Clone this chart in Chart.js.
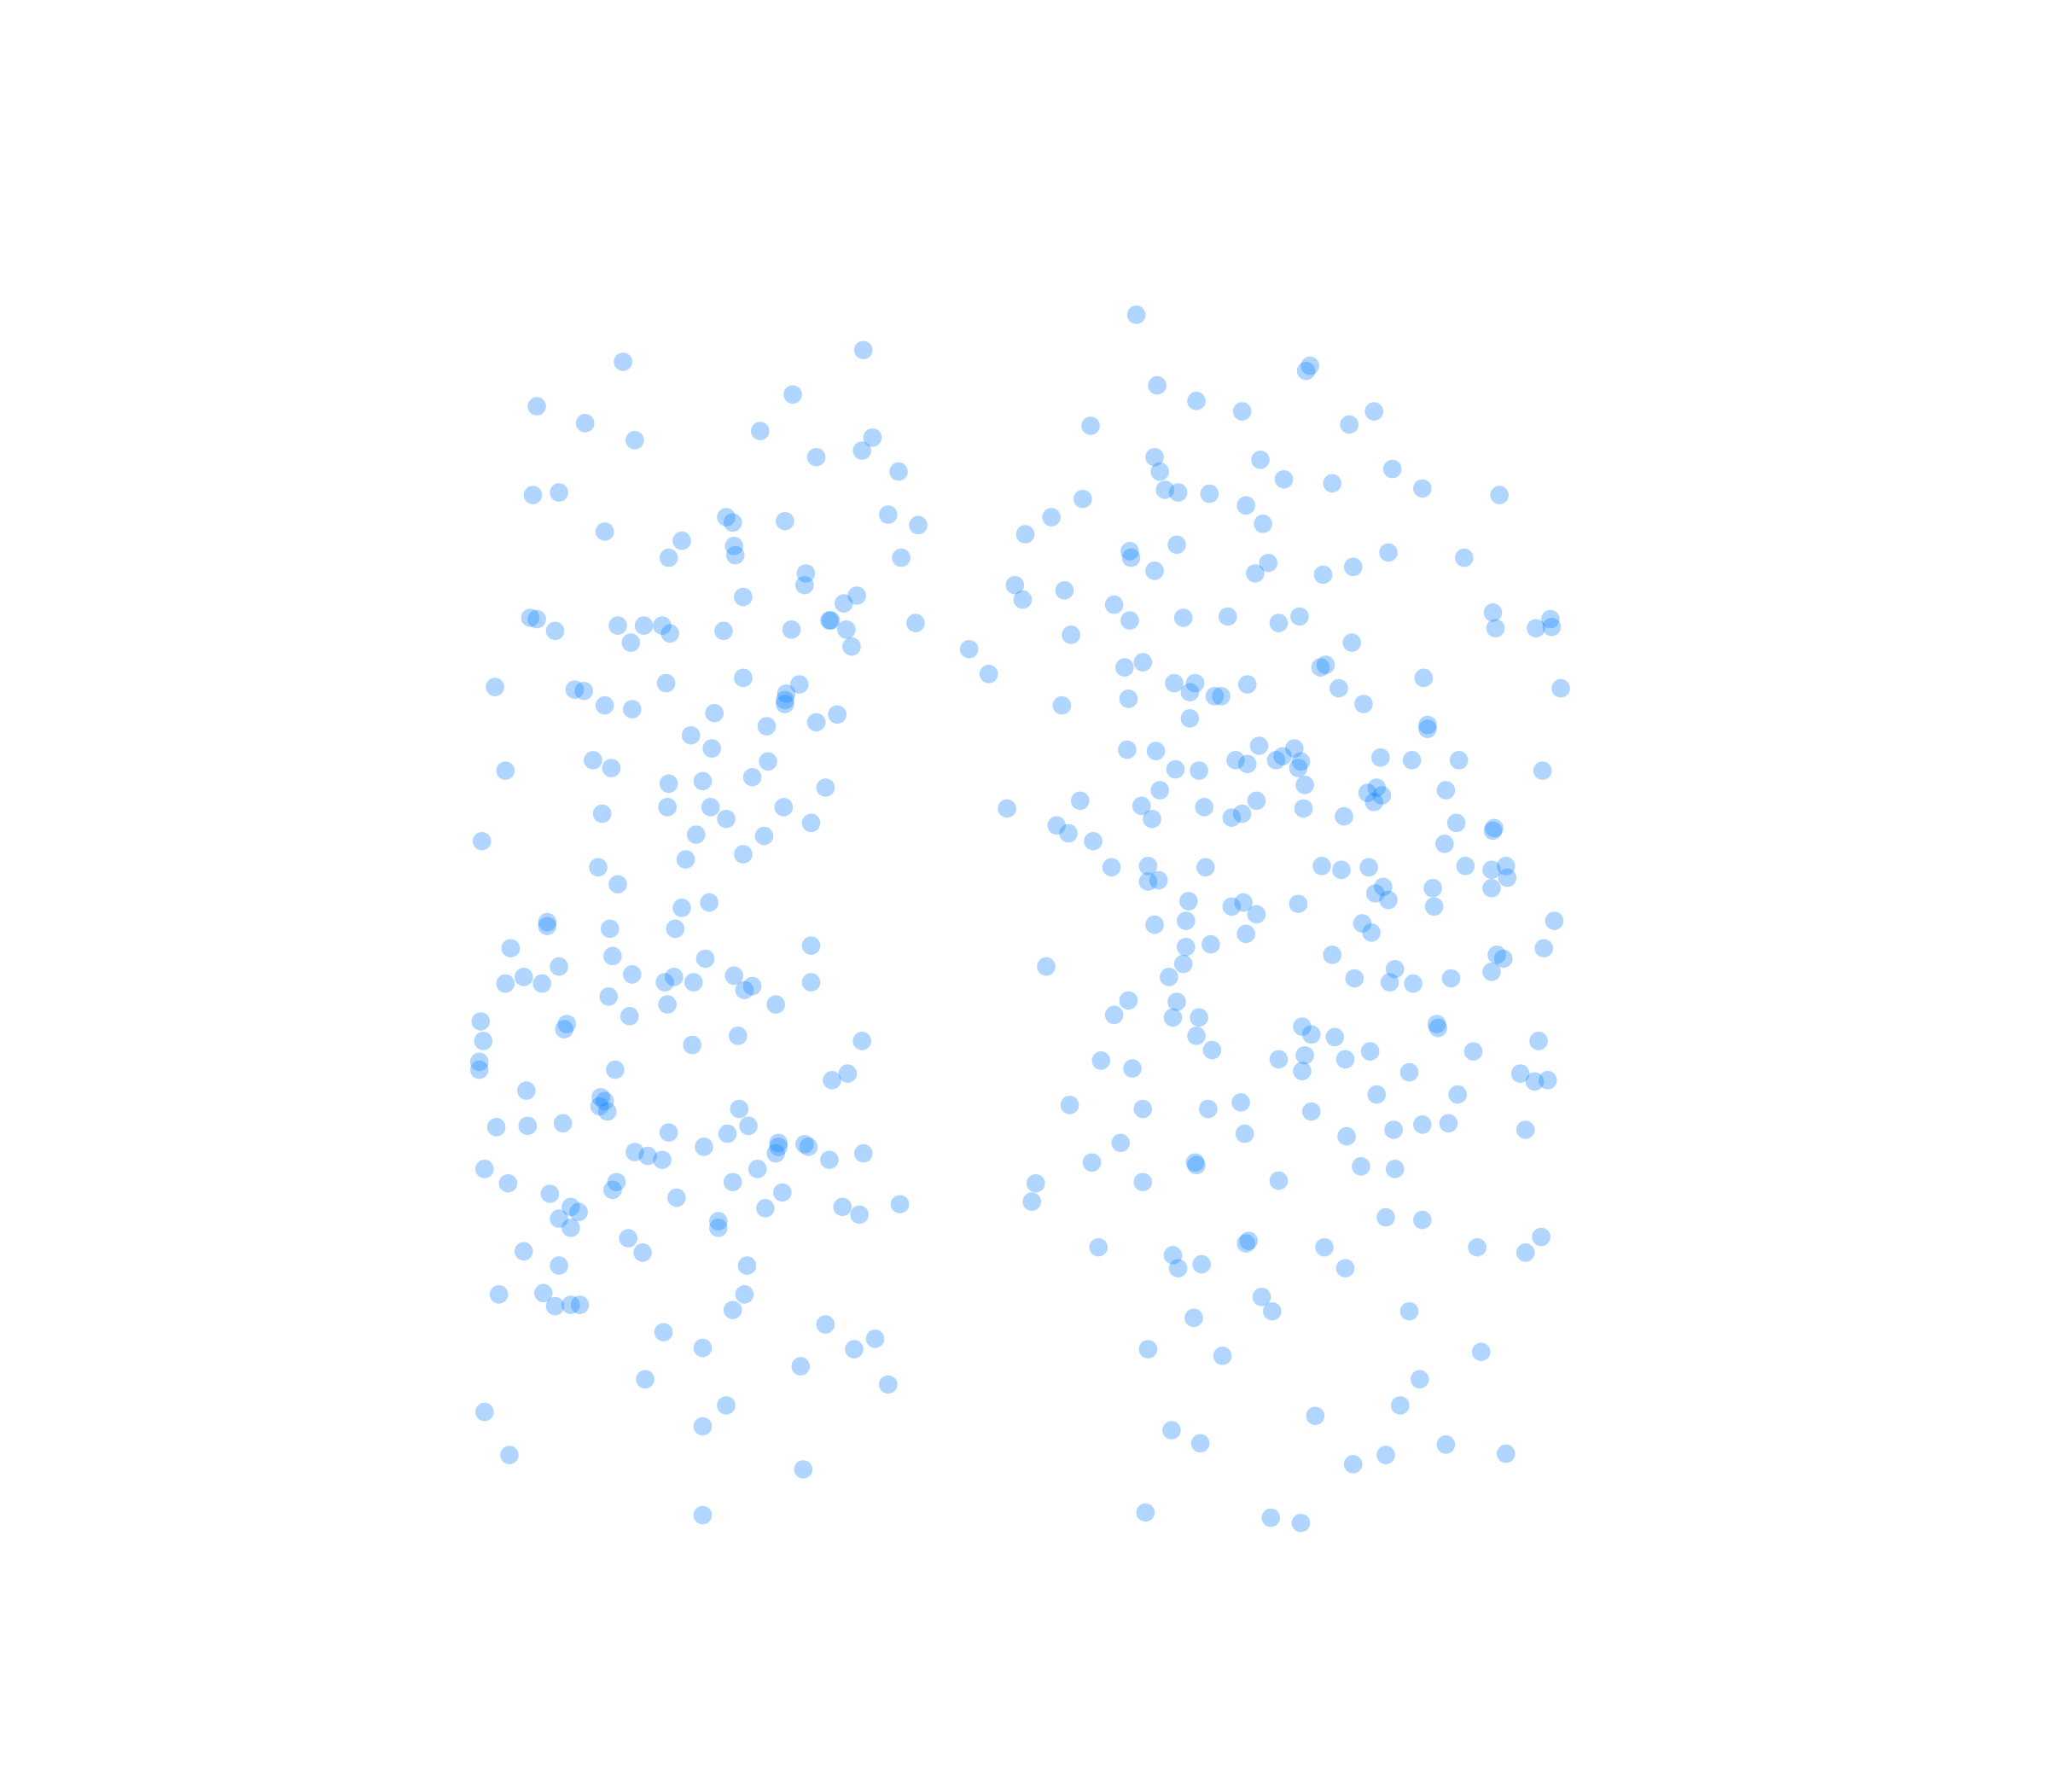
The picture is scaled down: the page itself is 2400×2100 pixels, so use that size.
<!DOCTYPE html>
<html>
<head>
    <meta charset="UTF-8">
    <title>Scatter</title>
    <style>
        body { margin: 0; background: #ffffff; }
        canvas { display: block; }
    </style>
</head>
<body>
    <canvas id="chart" width="2400" height="2100"></canvas>
    <script src="https://cdn.jsdelivr.net/npm/chart.js"></script>
    <script>
        // left group
        const leftX = [477,661,411,448,486,607,582,625,660,668,688,408,428,556,561,601,680,703,463,522,512,562,563,690,617,616,569,656,646,406,411,425,473,493,507,513,483,554,606,635,636,648,652,701,379,440,447,463,484,510,569,612,602,601,601,547,641,625,587,529,545,454,468,387,588,576,512,538,632,511,544,600,556,621,461,533,585,369,569,525,458,473,543,522,419,419,467,517,391,621,469,540,428,401,387,415,484,516,509,531,562,570,576,621,466,511,594,482,368,434,432,370,530,565,660,367,367,471,649,637,403,460,463,459,465,566,380,404,431,573,512,557,596,596,594,616,619,539,486,496,507,635,661,371,580,389,472,469,561,599,421,518,437,443,428,437,586,645,658,689,550,550,481,492,401,428,572,382,416,425,437,444,570,561,508,632,670,538,654,613,494,680,556,371,538,390,615,538];
        const leftY = [277,268,311,324,337,302,330,350,345,335,361,379,377,396,400,399,394,402,407,414,427,418,425,427,439,448,457,456,462,473,474,483,479,479,479,485,492,483,482,475,475,482,495,477,526,528,529,540,543,523,519,524,531,536,539,546,547,553,556,563,573,582,588,590,583,595,600,598,603,618,618,618,627,630,623,639,640,644,654,658,664,677,691,695,706,709,711,711,726,724,732,734,740,748,753,753,746,748,752,752,747,758,755,752,763,769,769,778,782,784,788,797,800,793,797,813,819,819,822,827,835,840,843,847,851,849,863,862,860,862,867,868,875,878,883,876,878,878,882,885,888,888,883,895,895,906,905,911,905,913,914,917,924,928,933,940,925,924,930,922,935,940,948,959,958,969,969,991,990,1000,999,999,991,1003,1020,1014,1025,1032,1033,1046,1056,1060,1076,1081,1092,1114,1125,1160];

        // right group
        const rightX = [870,1003,1000,886,916,951,1052,835,1033,884,965,888,1066,983,1020,892,902,926,1089,1148,829,954,805,967,785,901,865,866,1063,1121,971,1036,884,961,1013,777,783,815,853,1143,865,906,940,995,979,1187,1145,1176,1188,820,1035,875,861,1015,1011,1090,899,915,955,1025,1195,911,930,935,864,813,1044,911,1093,1093,964,863,885,991,982,977,946,955,996,994,1057,1081,1117,900,918,1181,999,888,1047,1054,1058,1052,1107,962,874,922,998,951,943,882,1029,827,771,809,818,837,1115,1144,1143,1106,851,879,923,1012,1027,1048,1122,1142,1153,1154,879,887,1059,1053,1063,1097,1142,910,943,952,994,1098,962,908,1043,1190,884,1050,954,908,927,1182,1020,1146,1151,906,801,1068,1142,895,1037,1064,1082,1111,864,901,853,898,918,997,1100,1101,916,1004,1022,1178,928,1049,1128,843,979,999,1030,867,997,1079,1164,1175,1185,1054,1116,819,950,875,925,1004,1089,1109,953,1067,1031,1168,858,836,915,916,1042,1068,793,875,979,790,1061,1089,1180,841,954,956,1014,1131,1168,898,902,920,1030,966,974,914,1079,879,936,1134,1087,1072,1007,897,919,1107,1061,1153,1036,877,973,996,742,757];
        const rightY = [241,280,284,295,307,315,315,326,325,350,352,361,359,367,370,375,377,378,374,379,382,387,396,401,409,417,422,427,423,427,431,434,437,439,440,448,459,452,463,469,475,473,472,472,477,474,481,481,480,486,492,507,511,509,511,519,523,523,524,527,527,530,533,533,535,540,539,550,555,558,571,574,575,573,579,582,582,585,583,588,580,582,582,589,590,590,601,605,607,603,609,614,605,613,617,618,619,623,626,627,625,613,619,632,638,644,630,634,636,646,664,663,664,663,666,664,663,666,663,672,675,674,679,684,689,680,680,690,694,691,692,694,700,705,707,705,708,714,715,725,723,726,731,731,734,738,740,742,744,748,749,752,753,749,766,767,777,779,779,786,784,787,793,792,794,797,804,805,805,812,811,808,811,818,820,821,822,828,827,838,838,846,844,849,849,851,861,860,868,865,870,865,875,890,890,892,893,895,906,905,904,920,932,934,947,955,952,950,955,955,959,961,971,968,971,993,1004,1009,1004,1033,1038,1035,1056,1076,1084,1095,1105,1106,1114,1113,1121,1158,1162,1166,497,516];

        function toPoints(xs, ys) {
            return xs.map((x, i) => ({ x: x, y: ys[i] }));
        }

        const dotColor = 'rgba(0, 122, 255, 0.31)';

        function dotSeries(xs, ys) {
            return {
                data: toPoints(xs, ys),
                pointBackgroundColor: dotColor,
                pointBorderWidth: 0,
                pointRadius: 10.8
            };
        }

        new Chart(document.getElementById('chart'), {
            type: 'scatter',
            data: {
                datasets: [dotSeries(leftX, leftY), dotSeries(rightX, rightY)]
            },
            options: {
                responsive: false,
                animation: false,
                devicePixelRatio: 1,
                // no extra inset for the dots, the plot area has to fill the canvas
                layout: { padding: 0, autoPadding: false },
                plugins: { legend: { display: false }, tooltip: { enabled: false } },
                scales: {
                    x: { type: 'linear', display: false, min: 0, max: 1568 },
                    y: { type: 'linear', display: false, min: 0, max: 1372, reverse: true }
                }
            }
        });
    </script>
</body>
</html>
